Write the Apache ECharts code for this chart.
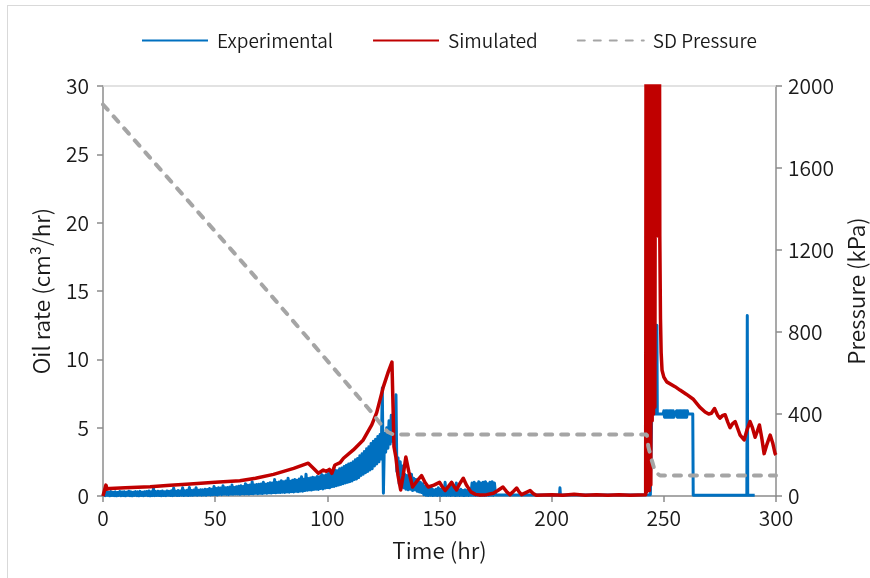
<!DOCTYPE html>
<html>
<head>
<meta charset="utf-8">
<script src="https://cdn.jsdelivr.net/npm/echarts@6/dist/echarts.min.js"></script>
<style>
  html, body { margin: 0; padding: 0; background: #fff; }
  #frame { position: absolute; left: 7px; top: 5px; width: 900px; height: 600px;
           border-left: 1px solid #d9d9d9; border-top: 1px solid #d9d9d9; }
  #chart { position: absolute; left: 0; top: 0; width: 870px; height: 578px; }
</style>
</head>
<body>
<div id="frame"></div>
<div id="chart"></div>
<script>
// Axis ranges and tick steps
const timeRange = [0, 300], timeStep = 50;
const rateRange = [0, 30], rateStep = 5;
const pressureRange = [0, 2000], pressureStep = 400;

// Measured oil rate, [time (hr), rate (cm³/hr)]
const experimental = [
  [0,0],[0.5,0.25],[1,0.02],[1.5,0.3],[2,0.05],[2.5,0.28],[3,0],[3.5,0.32],[4,0.03],[4.5,0.27],
  [5,0.02],[5.5,0.3],[6,0],[6.5,0.26],[7,0.04],[7.5,0.33],[8,0.01],[8.5,0.29],[9,0.03],[9.5,0.31],
  [10,0],[10.5,0.28],[11,0.05],[11.5,0.35],[12,0.02],[12.5,0.3],[13,0],[13.5,0.27],[14,0.04],[14.5,0.32],
  [15,0.02],[15.5,0.3],[16,0],[16.5,0.34],[17,0.03],[17.5,0.28],[18,0.01],[18.5,0.31],[19,0.05],[19.5,0.33],
  [20,0.02],[20.5,0.36],[21,0],[21.5,0.3],[22,0.03],[22.5,0.55],[23,0.02],[23.5,0.32],[24,0.04],[24.5,0.35],
  [25,0.03],[25.5,0.33],[26,0.01],[26.5,0.37],[27,0.04],[27.5,0.31],[28,0.02],[28.5,0.36],[29,0.05],[29.5,0.34],
  [30,0.03],[30.5,0.38],[31,0.02],[31.5,0.58],[32,0.05],[32.5,0.35],[33,0.03],[33.5,0.4],[34,0.04],[34.5,0.37],
  [35,0.05],[35.5,0.6],[36,0.03],[36.5,0.38],[37,0.06],[37.5,0.42],[38,0.04],[38.5,0.62],[39,0.06],[39.5,0.4],
  [40,0.05],[40.5,0.44],[41,0.07],[41.5,0.6],[42,0.05],[42.5,0.42],[43,0.08],[43.5,0.46],[44,0.06],[44.5,0.45],
  [45,0.08],[45.5,0.5],[46,0.06],[46.5,0.48],[47,0.1],[47.5,0.55],[48,0.07],[48.5,0.5],[49,0.09],[49.5,0.7],
  [50,0.1],[50.5,0.55],[51,0.08],[51.5,0.6],[52,0.12],[52.5,0.58],[53,0.1],[53.5,0.75],[54,0.12],[54.5,0.6],
  [55,0.12],[55.5,0.62],[56,0.1],[56.5,0.65],[57,0.14],[57.5,0.8],[58,0.12],[58.5,0.63],[59,0.15],[59.5,0.68],
  [60,0.15],[60.5,0.72],[61,0.13],[61.5,0.75],[62,0.16],[62.5,0.7],[63,0.14],[63.5,0.9],[64,0.17],[64.5,0.78],
  [65,0.15],[65.5,0.8],[66,0.18],[66.5,1.05],[67,0.16],[67.5,0.8],[68,0.2],[68.5,0.84],[69,0.17],[69.5,0.86],
  [70,0.2],[70.5,0.88],[71,0.18],[71.5,1.0],[72,0.22],[72.5,0.86],[73,0.2],[73.5,0.92],[74,0.23],[74.5,0.97],
  [75,0.22],[75.5,0.95],[76,0.25],[76.5,1.2],[77,0.23],[77.5,0.98],[78,0.26],[78.5,1.02],[79,0.25],[79.5,1.12],
  [80,0.28],[80.5,1.05],[81,0.26],[81.5,1.1],[82,0.3],[82.5,1.3],[83,0.28],[83.5,1.08],[84,0.32],[84.5,1.15],
  [85,0.3],[85.5,1.2],[86,0.34],[86.5,1.15],[87,0.32],[87.5,1.25],[88,0.36],[88.5,1.4],[89,0.35],[89.5,1.22],
  [90,0.4],[90.5,1.6],[91,0.42],[91.5,1.28],[92,0.45],[92.5,1.32],[93,0.44],[93.5,1.38],[94,0.48],[94.5,1.34],
  [95,0.5],[95.5,1.42],[96,0.48],[96.5,1.4],[97,0.55],[97.5,1.58],[98,0.52],[98.5,1.48],[99,0.58],[99.5,1.55],
  [100,0.62],[100.5,1.65],[101,0.6],[101.5,1.7],[102,0.68],[102.5,1.75],[103,0.7],[103.5,1.9],[104,0.75],[104.5,1.85],
  [105,0.8],[105.5,2.0],[106,0.85],[106.5,2.05],[107,0.9],[107.5,2.15],[108,0.95],[108.5,2.25],[109,1.0],[109.5,2.35],
  [110,1.05],[110.5,2.4],[111,1.1],[111.5,2.5],[112,1.2],[112.5,2.65],[113,1.25],[113.5,2.75],[114,1.35],[114.5,2.95],
  [115,1.5],[115.5,3.1],[116,1.6],[116.5,3.25],[117,1.7],[117.5,3.45],[118,1.8],[118.5,3.6],[119,1.9],[119.5,3.85],
  [120,2.0],[120.5,4.0],[121,2.2],[121.5,4.15],[122,2.35],[122.5,4.35],[123,2.5],[123.5,4.5],[124,2.7],[124.5,7.9],
  [125,0.2],[125.5,4.6],[126,3.2],[126.5,5.0],[127,3.5],[127.5,5.5],[128,3.8],[128.5,5.9],[129,4.0],[129.5,6.2],
  [130,3.5],[130.6,7.4],[131,1.8],[131.5,2.8],[132,0.9],[132.5,2.5],[133,0.7],[133.5,2.2],[134,0.6],[134.5,1.6],
  [135,0.5],[135.5,1.5],[136,0.45],[136.5,1.4],[137,0.5],[137.5,1.6],[138,0.4],[138.5,1.3],[139,0.45],[139.5,1.2],
  [140,0.35],[140.5,1.1],[141,0.3],[141.5,1.0],[142,0.25],[142.5,0.9],[143,0.1],[143.5,0.7],[144,0.05],[144.5,0.6],
  [145,0.04],[145.5,0.5],[146,0.05],[146.5,0.55],[147,0.03],[147.5,0.45],[148,0.05],[148.5,0.5],[149,0.04],[149.5,0.6],
  [150,0.05],[150.5,0.5],[151,0.03],[151.5,0.55],[152,0.05],[152.5,1.0],[153,0.04],[153.5,0.5],[154,0.05],[154.5,0.6],
  [155,0.04],[155.5,1.0],[156,0.05],[156.5,0.5],[157,0.03],[157.5,0.95],[158,0.05],[158.5,0.45],[159,0.04],[159.5,0.5],
  [160,0.05],[160.5,0.4],[161,0.03],[161.5,0.45],[162,0.05],[162.5,0.4],[163,0.04],[163.5,0.5],[164,0.05],[164.5,0.95],
  [165,0.05],[165.5,1.0],[166,0.04],[166.5,0.9],[167,0.05],[167.5,1.05],[168,0.04],[168.5,0.95],[169,0.05],[169.5,1.0],
  [170,0.04],[170.5,1.05],[171,0.05],[171.5,0.9],[172,0.04],[172.5,1.0],[173,0.05],[173.5,1.05],[174,0.04],[174.5,0.95],
  [175,0.08],[203.5,0.08],[203.7,0.6],[203.9,0.08],[244.0,0.1],[244.6,6.0],[246.7,6.0],[246.9,12.5],[247.1,6.0],[249.7,6.0],
  [250.0,6.23],[250.3,5.77],[250.6,6.23],[250.9,5.77],[251.2,6.23],[251.5,5.77],[251.8,6.23],[252.1,5.77],[252.4,6.23],
  [252.7,5.77],[253.0,6.23],[253.3,5.77],[253.6,6.23],[253.9,5.77],[254.2,6.23],[254.5,5.77],[254.8,6.0],[255.4,6.0],
  [255.7,6.23],[256.0,5.77],[256.3,6.23],[256.6,5.77],[256.9,6.23],[257.2,5.77],[257.5,6.23],[257.8,5.77],[258.1,6.23],
  [258.4,5.77],[258.7,6.23],[259.0,5.77],[259.3,6.23],[259.6,5.77],[259.9,6.23],[260.2,5.77],[260.5,6.23],[260.8,6.0],
  [262.9,6.0],[263.1,0.05],[287.0,0.05],[287.2,13.2],[287.4,0.05],[290.5,0.05]
];

// Simulated oil rate, [time (hr), rate (cm³/hr)]; values above 30 run off the top of the plot
const simulated = [
  [0,0],[0.8,0.02],[1.3,0.8],[1.9,0.5],[3,0.55],[10,0.6],[21,0.68],[30,0.78],[38.8,0.88],[50,1.0],
  [61,1.12],[68,1.3],[76,1.58],[85,2.02],[91.5,2.4],[94,2.0],[96,1.66],[98.2,1.9],[99.6,1.8],[100.9,1.95],
  [102,1.66],[103.4,2.27],[105.7,2.44],[107.2,2.76],[111.6,3.37],[116,4.1],[119.8,5.2],[122,6.1],[125,8.0],[127.2,9.1],
  [128.8,9.8],[129.3,6.5],[129.7,3.6],[130.5,2.9],[131.5,1.5],[132.7,0.44],[133.8,1.5],[135,2.85],[136.3,1.8],[138,0.66],
  [140,1.1],[142,1.5],[143.5,1.0],[145,0.66],[147.5,0.8],[150,1.0],[151.2,0.7],[152.5,0.4],[154,0.7],[155.4,1.0],
  [156.5,0.7],[157.6,0.44],[159,0.9],[160.6,1.3],[162,0.8],[164,0.3],[166,0.12],[168,0.07],[171,0.1],[174,0.2],
  [176,0.4],[178.3,0.66],[180,0.3],[181.4,0.1],[183,0.35],[184.4,0.58],[185.5,0.3],[186.6,0.1],[188.5,0.25],[190.4,0.4],
  [192,0.15],[193.3,0.05],[200,0.1],[205,0.05],[210,0.12],[215,0.05],[220,0.1],[225,0.05],[230,0.1],[235,0.05],
  [241.9,0.1],[242.1,40],[242.4,0.3],[242.7,40],[243.0,0.5],[243.3,40],[243.6,0.4],[243.9,40],[244.2,0.8],[244.5,40],
  [244.8,5.5],[245.1,40],[245.4,6],[245.7,40],[246.0,6.5],[246.3,40],[246.5,19],[246.8,40],[247.1,20],[247.4,40],
  [247.7,19],[248.0,40],[248.2,19],[248.5,13],[248.8,10.5],[249.2,9.2],[250,8.7],[251.3,8.35],[255,8.0],[257.2,7.75],[260,7.45],
  [263,7.1],[266,6.5],[268.4,6.15],[270,6.0],[271.2,6.05],[272.6,6.4],[274,5.9],[275,5.7],[276.3,5.9],[277.3,5.95],
  [278.5,5.4],[279.5,5.0],[280.7,5.3],[281.8,5.45],[283,4.9],[284,4.46],[285.8,4.1],[287,4.8],[288.4,5.45],[289.5,5.0],
  [290.7,4.3],[291.6,4.7],[292.6,5.2],[293.6,4.3],[294.7,3.1],[296,3.8],[297.4,4.46],[298.5,3.9],[299.6,3.1],[300,3.0]
];

// Pressure schedule, [time (hr), pressure (kPa)]
const sdPressure = [
  [0,1910],[65,1105],[120,405],[124.7,338],[127,312],[129.4,300],[242.4,300],[243.1,240],
  [244.6,176],[246.1,118],[248.3,100],[300,100]
];

const FONT = "'Noto Sans CJK SC', 'Noto Sans', sans-serif";
const TEXT = '#1a1a1a';
const AXIS = '#8c8c8c';
const WEIGHT = 350;

const plainNumber = v => String(v);

const baseAxis = {
  type: 'value',
  axisLine: { show: true, onZero: false, lineStyle: { color: AXIS, width: 1.5 } },
  axisTick: { show: true, length: 6, lineStyle: { color: AXIS, width: 1.5 } },
  axisLabel: { fontSize: 21, color: TEXT, fontFamily: FONT, fontWeight: WEIGHT, formatter: plainNumber },
  splitLine: { show: false },
  nameLocation: 'middle',
  nameTextStyle: { fontSize: 22.5, color: TEXT, fontFamily: FONT, fontWeight: WEIGHT }
};

const chart = echarts.init(document.getElementById('chart'));
chart.setOption({
  animation: false,
  textStyle: { fontFamily: FONT },
  grid: { left: 103, right: 94, top: 86, bottom: 82, containLabel: false, outerBoundsMode: 'none' },
  legend: {
    left: 136, top: 26,
    itemWidth: 66, itemHeight: 18, itemGap: 39,
    itemStyle: { color: 'rgba(0,0,0,0)', borderWidth: 0, opacity: 0 },
    textStyle: { fontSize: 19, color: TEXT, fontFamily: FONT, fontWeight: WEIGHT, padding: [0, 0, 0, 4] },
    data: ['Experimental', 'Simulated', 'SD Pressure']
  },
  xAxis: [
    Object.assign({}, baseAxis, {
      min: timeRange[0], max: timeRange[1], interval: timeStep,
      position: 'bottom', name: 'Time (hr)', nameGap: 43,
      axisLabel: Object.assign({}, baseAxis.axisLabel, { margin: 12 })
    }),
    {
      type: 'value', min: timeRange[0], max: timeRange[1], position: 'top',
      axisLine: { show: true, onZero: false, lineStyle: { color: '#d9d9d9', width: 1.5 } },
      axisTick: { show: false }, axisLabel: { show: false }, splitLine: { show: false }
    }
  ],
  yAxis: [
    Object.assign({}, baseAxis, {
      min: rateRange[0], max: rateRange[1], interval: rateStep,
      position: 'left', name: 'Oil rate (cm³/hr)', nameGap: 50, nameRotate: 90,
      axisLabel: Object.assign({}, baseAxis.axisLabel, { margin: 14 })
    }),
    Object.assign({}, baseAxis, {
      min: pressureRange[0], max: pressureRange[1], interval: pressureStep,
      position: 'right', name: 'Pressure (kPa)', nameGap: 64, nameRotate: 90,
      axisLabel: Object.assign({}, baseAxis.axisLabel, { margin: 12 })
    })
  ],
  series: [
    {
      name: 'Experimental', type: 'line', xAxisIndex: 0, yAxisIndex: 0,
      data: experimental, symbol: 'none', clip: true,
      lineStyle: { color: '#0070C0', width: 3, join: 'round' },
      itemStyle: { color: '#0070C0' }, z: 2
    },
    {
      name: 'Simulated', type: 'line', xAxisIndex: 0, yAxisIndex: 0,
      data: simulated, symbol: 'none', clip: true,
      lineStyle: { color: '#C00000', width: 3.5, join: 'round' },
      itemStyle: { color: '#C00000' }, z: 3
    },
    {
      name: 'SD Pressure', type: 'line', xAxisIndex: 0, yAxisIndex: 1,
      data: sdPressure, symbol: 'none', clip: true,
      lineStyle: { color: '#A5A5A5', width: 4, type: [7, 9], cap: 'round' },
      itemStyle: { color: '#A5A5A5' }, z: 4
    }
  ]
});
</script>
</body>
</html>
